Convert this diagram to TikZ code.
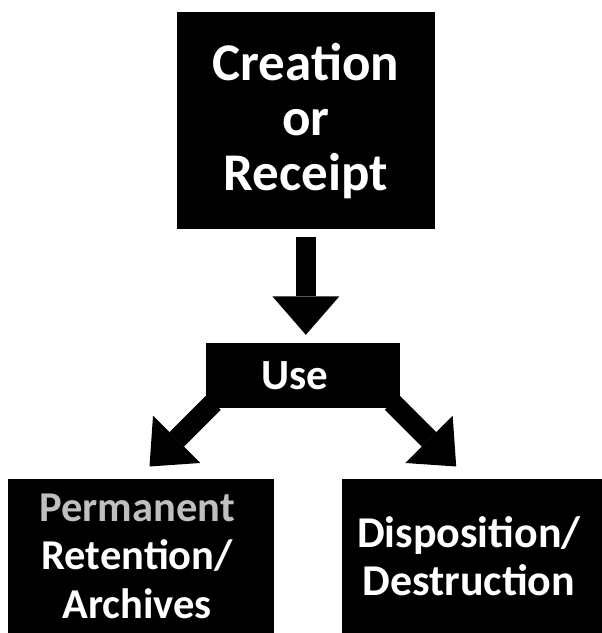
\documentclass[tikz,border=0pt]{standalone}
\usepackage{fontspec}
\setmainfont{Carlito}
\usetikzlibrary{arrows.meta,calc}
\definecolor{permgray}{HTML}{BFBFBF}
\begin{document}
\begin{tikzpicture}[x=1pt,y=-1pt,
  box/.style={fill=black,draw=none,inner sep=0pt,text=white,align=center},
  fat/.style={line width=20.5pt,-{Triangle[width=67pt,length=38.5pt,line width=0pt]}}]
\useasboundingbox (0,0) rectangle (602,633);
\node[box,minimum width=258.3pt,minimum height=216.7pt,font=\bfseries\fontsize{53}{55}\selectfont] (top) at (305.85,120.65) {Creation\\or\\Receipt};
\node[box,minimum width=194.3pt,minimum height=65pt,font=\bfseries\fontsize{43}{46}\selectfont] (use) at (302.85,375.8) {\hspace*{-16pt}Use};
\node[box,minimum width=265.7pt,minimum height=153.7pt,font=\bfseries\fontsize{42.5}{48.5}\selectfont] (perm) at (141.15,556.15) {\hspace*{-8pt}\textcolor{permgray}{Permanent}\\\hspace*{-8pt}Retention/\\\hspace*{-8pt}Archives};
\node[box,minimum width=260.3pt,minimum height=153.7pt,font=\bfseries\fontsize{44}{48}\selectfont] (disp) at (471.85,556.15) {\hspace*{-6pt}Disposition/\\\hspace*{-6pt}Destruction};
\coordinate (lt) at ($(use.south west)+(-56,58)$);
\coordinate (rt) at ($(use.south east)+(56,58)$);
\draw[fat,shorten <=7.7pt,shorten >=8.3pt] (top.south) -- (top.south |- use.north);
\draw[fat] ($(use.south west)+(8,-6)$) -- (lt);
\draw[fat] ($(use.south east)+(-8,-6)$) -- (rt);
\end{tikzpicture}
\end{document}
